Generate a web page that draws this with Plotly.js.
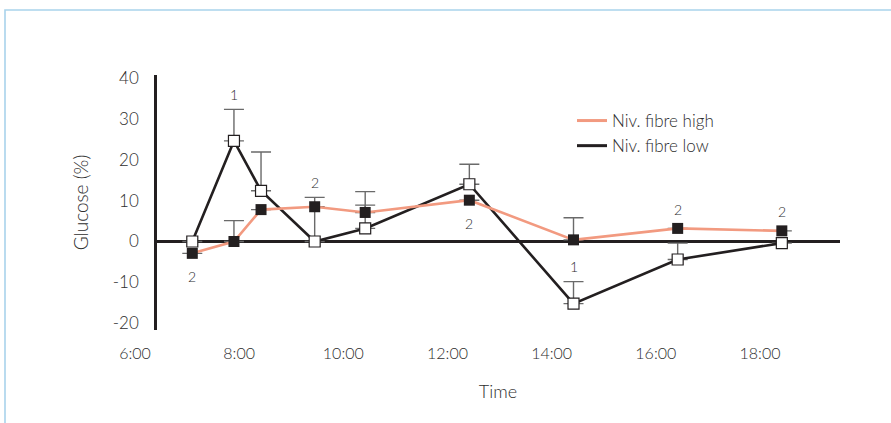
<!DOCTYPE html>
<html>
<head>
<meta charset="utf-8">
<script src="https://cdn.plot.ly/plotly-3.0.1.min.js"></script>
<style>html,body{margin:0;padding:0;background:#fff;}#chart{width:891px;height:423px;}</style>
</head>
<body>
<div id="chart"></div>
<script>
// ---- data (time in decimal hours) ----
var timeHours   = [7.1, 7.9, 8.42, 9.45, 10.42, 12.42, 14.42, 16.42, 18.42];
var highName    = 'Niv. fibre high';
var lowName     = 'Niv. fibre low';
var highValues  = [-2.9, 0.0, 7.8, 8.5, 7.1, 10.1, 0.4, 3.2, 2.6];
var highErrors  = [null, 5.1, null, null, 1.8, null, 5.4, null, null];
var lowValues   = [0.0, 24.6, 12.4, 0.0, 3.2, 14.0, -15.2, -4.4, -0.4];
var lowErrors   = [null, 7.7, 9.5, 10.8, 9.0, 4.9, 5.4, 4.0, null];
var tickHours   = [6, 8, 10, 12, 14, 16, 18];
var tickLabels  = ['6:00', '8:00', '10:00', '12:00', '14:00', '16:00', '18:00'];
var yTicks      = [-20, -10, 0, 10, 20, 30, 40];
var yTickLabels = ['-20', '-10', '0', '10', '20', '30', '40'];
// significance labels: series, point index, text, side
var sigSeries   = ['high', 'low', 'low', 'high', 'low', 'high', 'high'];
var sigIndex    = [0, 1, 3, 5, 6, 7, 8];
var sigText     = ['2', '1', '2', '2', '1', '2', '2'];
var sigSide     = ['below', 'above', 'above', 'below', 'above', 'above', 'above'];

// ---- styles ----
var W = 891, H = 423;
var ink = '#231F20';
var orange = '#F29A80';
var txt = '#2e2e2e';
var errColor = '#6a6a6a';
var fontMain = 'Lato, "Open Sans", sans-serif';
var lightW = 300;

// pixel geometry -> paper fractions
var plotL = 157, plotR = 840, plotT = 75, plotB = 330;
var xPx0 = 135, pxPerHour = 52.08;   // 6:00 at x=135
var yZeroPx = 241.5, pxPerUnit = 4.09;
function hourAt(px){ return 6 + (px - xPx0) / pxPerHour; }
function valAt(py){ return (yZeroPx - py) / pxPerUnit; }

var lowTrace = {
  x: timeHours, y: lowValues, type: 'scatter', mode: 'lines+markers',
  name: lowName, showlegend: false,
  line: {color: ink, width: 2.6},
  marker: {symbol: 'square', size: 11, color: '#ffffff', line: {color: ink, width: 1.2}},
  error_y: {type: 'data', array: lowErrors, symmetric: false,
            arrayminus: lowErrors.map(function(e){ return e === null ? null : 0; }),
            color: errColor, thickness: 1.4, width: 10},
  hoverinfo: 'skip'
};
var highTrace = {
  x: timeHours, y: highValues, type: 'scatter', mode: 'lines+markers',
  name: highName, showlegend: false,
  line: {color: orange, width: 2.6},
  marker: {symbol: 'square', size: 11, color: ink, line: {color: ink, width: 0}},
  error_y: {type: 'data', array: highErrors, symmetric: false,
            arrayminus: highErrors.map(function(e){ return e === null ? null : 0; }),
            color: errColor, thickness: 1.4, width: 10},
  hoverinfo: 'skip'
};
// legend-only entries (lines without markers)
var legHigh = {x: [null], y: [null], type: 'scatter', mode: 'lines', name: highName,
  legendgroup: 'a', line: {color: orange, width: 3}, hoverinfo: 'skip'};
var legLow = {x: [null], y: [null], type: 'scatter', mode: 'lines', name: lowName,
  legendgroup: 'b', line: {color: ink, width: 3}, hoverinfo: 'skip'};
// invisible trace to create the tick-label axis subplot
var tickHolder = {x: [], y: [], xaxis: 'x2', yaxis: 'y2', type: 'scatter', mode: 'markers',
  showlegend: false, hoverinfo: 'skip'};

var annotations = sigText.map(function(t, i){
  var idx = sigIndex[i];
  var isHigh = sigSeries[i] === 'high';
  var vals = isHigh ? highValues : lowValues;
  var errs = isHigh ? highErrors : lowErrors;
  var e = errs[idx] || 0;
  var y = sigSide[i] === 'above' ? vals[idx] + e : vals[idx];
  var shift = sigSide[i] === 'above' ? (e ? 15 : 19) : -23;
  return {x: timeHours[idx], y: y, xref: 'x', yref: 'y', text: t, showarrow: false,
          yshift: shift, xanchor: 'center', yanchor: 'middle',
          font: {family: fontMain, size: 14, color: txt, weight: lightW}};
});

var x2L = 110, x2R = 886;
var layout = {
  width: W, height: H,
  margin: {l: 0, r: 0, t: 0, b: 0},
  paper_bgcolor: '#ffffff', plot_bgcolor: 'rgba(0,0,0,0)',
  showlegend: true,
  legend: {x: 572 / W, y: 1 - 103 / H, xanchor: 'left', yanchor: 'top',
           font: {family: fontMain, size: 17, color: txt, weight: lightW}, bgcolor: 'rgba(0,0,0,0)',
           traceorder: 'grouped', tracegroupgap: 0},
  xaxis: {domain: [plotL / W, plotR / W], range: [hourAt(plotL), hourAt(plotR)],
          showticklabels: false, ticks: '', showgrid: false, zeroline: false, showline: false,
          fixedrange: true},
  yaxis: {domain: [1 - plotB / H, 1 - plotT / H], range: [valAt(plotB), valAt(plotT)],
          tickvals: yTicks, ticktext: yTickLabels, ticks: '', ticklabelstandoff: 12,
          tickfont: {family: fontMain, size: 17, color: txt, weight: lightW},
          showgrid: false, zeroline: true, zerolinecolor: ink, zerolinewidth: 2.6,
          showline: true, linecolor: ink, linewidth: 2.8,
          title: {text: 'Glucose (%)', font: {family: fontMain, size: 19, color: txt, weight: lightW}, standoff: 20},
          fixedrange: true},
  xaxis2: {domain: [x2L / W, x2R / W], range: [hourAt(x2L), hourAt(x2R)], anchor: 'y2',
           tickvals: tickHours, ticktext: tickLabels, ticks: '', ticklabelstandoff: 12,
           tickfont: {family: fontMain, size: 16, color: txt, weight: lightW},
           showgrid: false, zeroline: false, showline: false,
           title: {text: 'Time', font: {family: fontMain, size: 18, color: txt, weight: lightW}, standoff: 24},
           fixedrange: true},
  yaxis2: {domain: [1 - plotB / H, 1 - plotT / H], range: [0, 1], visible: false, fixedrange: true},
  annotations: annotations,
  shapes: [{type: 'path', xref: 'paper', yref: 'paper', layer: 'below',
            path: 'M ' + (5 / W) + ' 0 L ' + (5 / W) + ' ' + (1 - 10 / H) + ' L 1 ' + (1 - 10 / H),
            line: {color: '#a9d3ec', width: 1.6}}]
};

Plotly.newPlot('chart', [tickHolder, lowTrace, highTrace, legHigh, legLow], layout,
  {staticPlot: true, displayModeBar: false});
</script>
</body>
</html>
